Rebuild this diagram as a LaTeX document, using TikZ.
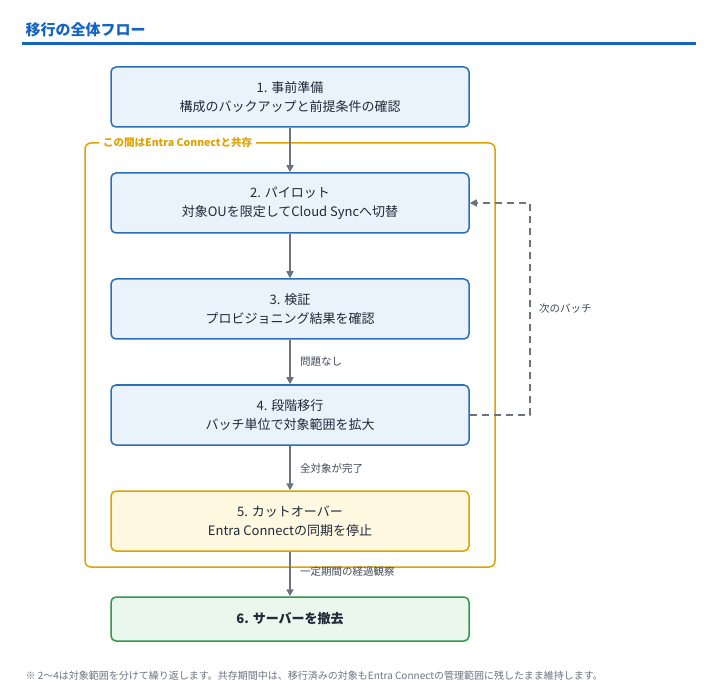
\documentclass[tikz,border=0pt]{standalone}
\usepackage{fontspec}
\setmainfont{Noto Sans CJK JP}
\usetikzlibrary{arrows.meta}
\definecolor{tblue}{HTML}{1565C0}
\definecolor{bfill}{HTML}{EAF2FB}
\definecolor{bline}{HTML}{2A6FB8}
\definecolor{org}{HTML}{DDA300}
\definecolor{yfill}{HTML}{FFF8E1}
\definecolor{gfill}{HTML}{E9F7EC}
\definecolor{gline}{HTML}{2E9A4A}
\definecolor{arr}{HTML}{6B7280}
\definecolor{txt}{HTML}{1F2937}
\begin{document}
\begin{tikzpicture}[x=1pt,y=-1pt,
 box/.style={draw=bline,fill=bfill,line width=1.5pt,rounded corners=5pt,minimum width=358pt,minimum height=60pt,align=center,font=\fontsize{13}{19}\selectfont,text=txt},
 ar/.style={draw=arr,line width=1.5pt,-{Triangle[length=7pt,width=7pt]}},
 lab/.style={font=\fontsize{10.5}{12}\selectfont,text=txt!85,anchor=west}]
\useasboundingbox (0,0) rectangle (720,700);
\node[anchor=west,font=\fontsize{15}{17}\selectfont\bfseries,text=tblue] (title) at (22,30) {移行の全体フロー};
\draw[tblue,line width=3pt] (22,44) -- (696,44);
\draw[org,line width=1.5pt,rounded corners=6pt] (85,143) rectangle (495,567);
\node[anchor=west,fill=white,font=\fontsize{10.5}{12}\selectfont\bfseries,text=org,inner xsep=4pt] (co) at (99,143) {この間はEntra Connectと共存};
\node[box] (b1) at (290,97) {1. 事前準備\\構成のバックアップと前提条件の確認};
\node[box] (b2) at (290,203) {2. パイロット\\対象OUを限定してCloud Syncへ切替};
\node[box] (b3) at (290,309) {3. 検証\\プロビジョニング結果を確認};
\node[box] (b4) at (290,415) {4. 段階移行\\バッチ単位で対象範囲を拡大};
\node[box,draw=org,fill=yfill] (b5) at (290,521) {5. カットオーバー\\Entra Connectの同期を停止};
\node[box,draw=gline,fill=gfill,minimum height=44pt,font=\fontsize{13}{19}\selectfont\bfseries] (b6) at (290,619) {6. サーバーを撤去};
\draw[ar] (b1) -- (b2);
\draw[ar] (b2) -- (b3);
\draw[ar] (b3) -- node[lab,xshift=6pt]{問題なし} (b4);
\draw[ar] (b4) -- node[lab,xshift=6pt]{全対象が完了} (b5);
\draw[ar] (b5) -- node[lab,xshift=6pt,yshift=2pt]{一定期間の経過観察} (b6);
\coordinate (c1) at (530,415);
\coordinate (c2) at (530,203);
\draw[ar,dashed,dash pattern=on 7pt off 5pt] (b4.east) -- (c1) -- node[lab,xshift=5pt]{次のバッチ} (c2) -- (b2.east);
\node[anchor=west,font=\fontsize{10}{12}\selectfont,text=arr] (fn) at (22,676) {※ 2〜4は対象範囲を分けて繰り返します。共存期間中は、移行済みの対象もEntra Connectの管理範囲に残したまま維持します。};
\end{tikzpicture}
\end{document}
